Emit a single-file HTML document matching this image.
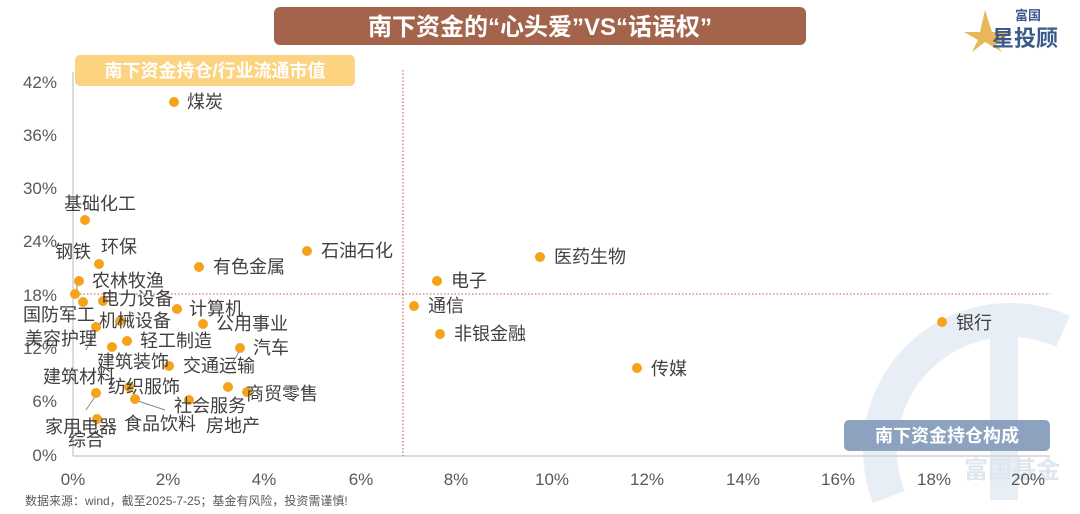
<!DOCTYPE html>
<html><head><meta charset="utf-8"><style>
html,body{margin:0;padding:0;background:#fff;width:1080px;height:514px;overflow:hidden;}
svg{display:block;overflow:hidden;font-family:"Liberation Sans","Noto Sans CJK SC",sans-serif;}
</style></head><body>
<svg width="1080" height="514" viewBox="0 0 1080 514" xmlns="http://www.w3.org/2000/svg">
<!-- watermark -->
<path d="M888.8,497 A130,130 0 0 1 1063,331.3" fill="none" stroke="#e8eef6" stroke-width="34"/>
<rect x="990" y="320" width="28" height="180" fill="#e8eef6"/>
<text x="1012" y="478" font-size="24" font-weight="bold" fill="#dfe6ef" text-anchor="middle">富国基金</text>

<!-- title -->
<rect x="274" y="7" width="532" height="38" rx="6" fill="#a3644b"/>
<text x="540" y="35" font-size="24" font-weight="bold" fill="#fff" text-anchor="middle">南下资金的“心头爱”VS“话语权”</text>
<!-- logo -->
<polygon points="985,10 992,32 1012,32 996,44 1002,52 985,42 972,52 978,40 964,32 980,32" fill="#e7b75a"/>
<text x="1028" y="20" font-size="13" font-weight="bold" fill="#3a5a8c" text-anchor="middle">富国</text>
<text x="1025" y="46" font-size="22" font-weight="bold" fill="#3a5a8c" text-anchor="middle">星投顾</text>

<!-- legend boxes -->
<rect x="75" y="55" width="280" height="31" rx="5" fill="#fcd380"/>
<text x="215" y="77" font-size="18" font-weight="bold" fill="#fff" text-anchor="middle">南下资金持仓/行业流通市值</text>
<rect x="844" y="420" width="206" height="31" rx="5" fill="#8da2bf"/>
<text x="947" y="442" font-size="18" font-weight="bold" fill="#fff" text-anchor="middle">南下资金持仓构成</text>

<!-- axes -->
<line x1="73" y1="72" x2="73" y2="456" stroke="#d0d0d0" stroke-width="1.5"/>
<line x1="73" y1="456" x2="1050" y2="456" stroke="#d0d0d0" stroke-width="1.5"/>
<line x1="403" y1="70" x2="403" y2="456" stroke="#c0504d" stroke-width="1" stroke-dasharray="1.5,2"/>
<line x1="73" y1="294" x2="1050" y2="294" stroke="#c0504d" stroke-width="1" stroke-dasharray="1.5,2"/>

<g font-size="17" fill="#595959" text-anchor="end">
<text x="57" y="88">42%</text><text x="57" y="141">36%</text><text x="57" y="194">30%</text>
<text x="57" y="247">24%</text><text x="57" y="301">18%</text><text x="57" y="354">12%</text>
<text x="57" y="407">6%</text><text x="57" y="461">0%</text>
</g>
<g font-size="17" fill="#595959" text-anchor="middle">
<text x="73" y="485">0%</text><text x="168" y="485">2%</text><text x="264" y="485">4%</text>
<text x="361" y="485">6%</text><text x="456" y="485">8%</text><text x="552" y="485">10%</text>
<text x="647" y="485">12%</text><text x="743" y="485">14%</text><text x="838" y="485">16%</text>
<text x="934" y="485">18%</text><text x="1028" y="485">20%</text>
</g>
<text x="25" y="505" font-size="12" fill="#595959">数据来源：wind，截至2025-7-25；基金有风险，投资需谨慎!</text>

<!-- leader lines -->
<g stroke="#888" stroke-width="1">
<line x1="96" y1="330" x2="86" y2="350"/>
<line x1="96" y1="395" x2="86" y2="410"/>
<line x1="135" y1="400" x2="165" y2="410"/>
<line x1="240" y1="350" x2="233" y2="362"/>
<line x1="77" y1="284" x2="77" y2="296"/>
</g>

<!-- points -->
<g fill="#f5a31a">
<circle cx="174" cy="102" r="5"/><circle cx="85" cy="220" r="5"/><circle cx="99" cy="264" r="5"/>
<circle cx="199" cy="267" r="5"/><circle cx="307" cy="251" r="5"/><circle cx="79" cy="281" r="5"/>
<circle cx="437" cy="281" r="5"/><circle cx="540" cy="257" r="5"/><circle cx="75" cy="294" r="5"/>
<circle cx="83" cy="302" r="5"/><circle cx="103" cy="301" r="5"/><circle cx="177" cy="309" r="5"/>
<circle cx="120" cy="321" r="5"/><circle cx="203" cy="324" r="5"/><circle cx="96" cy="327" r="5"/>
<circle cx="127" cy="341" r="5"/><circle cx="112" cy="347" r="5"/><circle cx="240" cy="348" r="5"/>
<circle cx="169" cy="366" r="5"/><circle cx="96" cy="393" r="5"/><circle cx="129" cy="387" r="5"/>
<circle cx="135" cy="399" r="5"/><circle cx="189" cy="400" r="5"/><circle cx="228" cy="387" r="5"/>
<circle cx="247" cy="392" r="5"/><circle cx="97" cy="419" r="5"/><circle cx="414" cy="306" r="5"/>
<circle cx="440" cy="334" r="5"/><circle cx="637" cy="368" r="5"/><circle cx="942" cy="322" r="5"/>
</g>

<!-- labels -->
<g font-size="18" fill="#404040">
<text x="187" y="108">煤炭</text>
<text x="64" y="210">基础化工</text>
<text x="55" y="258">钢铁</text><text x="101" y="253">环保</text>
<text x="213" y="273">有色金属</text>
<text x="321" y="257">石油石化</text>
<text x="92" y="287">农林牧渔</text>
<text x="451" y="287">电子</text>
<text x="554" y="263">医药生物</text>
<text x="101" y="305">电力设备</text>
<text x="189" y="315">计算机</text>
<text x="23" y="321">国防军工</text>
<text x="99" y="327">机械设备</text>
<text x="216" y="330">公用事业</text>
<text x="25" y="345">美容护理</text>
<text x="140" y="347">轻工制造</text>
<text x="253" y="354">汽车</text>
<text x="97" y="368">建筑装饰</text>
<text x="183" y="372">交通运输</text>
<text x="43" y="383">建筑材料</text>
<text x="108" y="393">纺织服饰</text>
<text x="246" y="400">商贸零售</text>
<text x="174" y="412">社会服务</text>
<text x="45" y="433">家用电器</text>
<text x="124" y="430">食品饮料</text>
<text x="206" y="432">房地产</text>
<text x="68" y="446">综合</text>
<text x="428" y="312">通信</text>
<text x="454" y="340">非银金融</text>
<text x="651" y="375">传媒</text>
<text x="956" y="329">银行</text>
</g>
</svg>
</body></html>
